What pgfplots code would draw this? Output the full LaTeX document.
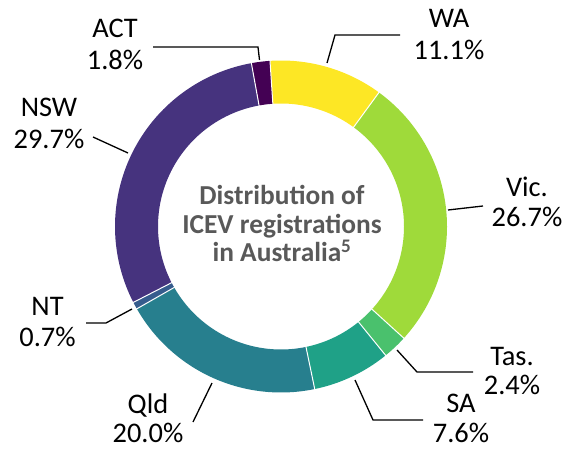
\documentclass[border=0pt]{standalone}
\usepackage{fontspec}
\setmainfont{Carlito}
\usepackage{pgfplots}
\pgfplotsset{compat=1.18}
\definecolor{cWA}{HTML}{FDE725}
\definecolor{cVic}{HTML}{9FDA3A}
\definecolor{cTas}{HTML}{4AC16D}
\definecolor{cSA}{HTML}{1FA187}
\definecolor{cQld}{HTML}{277F8E}
\definecolor{cNT}{HTML}{365C8D}
\definecolor{cNSW}{HTML}{46337E}
\definecolor{cACT}{HTML}{440154}
\definecolor{ctitle}{HTML}{595959}
% segment: colour, share before (in %), share (in %)
\newcommand{\seg}[3]{\addplot[no markers, line width=43bp, color=#1, domain={93.8-3.6*(#2+#3)}:{93.8-3.6*(#2)}, samples=90] ({281+144.5*cos(x)},{226.5-144.5*sin(x)});}
\newcommand{\sep}[1]{\addplot[no markers, white, line width=1bp, domain=121:168, samples=2] ({281+x*cos(93.8-3.6*(#1))},{226.5-x*sin(93.8-3.6*(#1))});}
\newcommand{\lab}[5]{%
\node[anchor=base, inner sep=0pt, font=\fontsize{28.5}{31}\selectfont] at (axis cs:#1,#2) {#4};
\node[anchor=base, inner sep=0pt, font=\fontsize{28.5}{31}\selectfont] at (axis cs:#1,#3) {#5};}
\begin{document}
\begin{tikzpicture}
\begin{axis}[
  width=570bp, height=450bp, scale only axis,
  xmin=0, xmax=570, ymin=0, ymax=450, y dir=reverse,
  hide axis, clip=false]
% shares: WA 11.1, Vic 26.7, Tas 2.4, SA 7.6, Qld 20.0, NT 0.7, NSW 29.7, ACT 1.8
\seg{cWA}{0}{11.1}
\seg{cVic}{11.1}{26.7}
\seg{cTas}{11.1+26.7}{2.4}
\seg{cSA}{11.1+26.7+2.4}{7.6}
\seg{cQld}{11.1+26.7+2.4+7.6}{20.0}
\seg{cNT}{11.1+26.7+2.4+7.6+20.0}{0.7}
\seg{cNSW}{11.1+26.7+2.4+7.6+20.0+0.7}{29.7}
\seg{cACT}{11.1+26.7+2.4+7.6+20.0+0.7+29.7}{1.8}
\sep{0}
\sep{11.1}
\sep{11.1+26.7}
\sep{11.1+26.7+2.4}
\sep{11.1+26.7+2.4+7.6}
\sep{11.1+26.7+2.4+7.6+20.0}
\sep{11.1+26.7+2.4+7.6+20.0+0.7}
\sep{11.1+26.7+2.4+7.6+20.0+0.7+29.7}
% leader lines
\addplot[no markers, black, line width=1.3bp] coordinates {(153,47) (258,47) (259.5,60)};
\addplot[no markers, black, line width=1.3bp] coordinates {(400,35) (335,35) (327,63)};
\addplot[no markers, black, line width=1.3bp] coordinates {(93,137) (128,153)};
\addplot[no markers, black, line width=1.3bp] coordinates {(483,206) (448,210)};
\addplot[no markers, black, line width=1.3bp] coordinates {(86,323) (106,323) (132,309)};
\addplot[no markers, black, line width=1.3bp] coordinates {(473,372) (417,372) (397,350)};
\addplot[no markers, black, line width=1.3bp] coordinates {(423,420) (373,420) (355,380)};
\addplot[no markers, black, line width=1.3bp] coordinates {(193,422) (212,383)};
% labels
\lab{115}{38}{70}{ACT}{1.8\%}
\lab{449}{28}{59.5}{WA}{11.1\%}
\lab{49}{117}{149}{NSW}{29.7\%}
\lab{527}{197}{227}{Vic.}{26.7\%}
\lab{47.5}{315}{346}{NT}{0.7\%}
\lab{512}{365}{394.5}{Tas.}{2.4\%}
\lab{461}{412.5}{442}{SA}{7.6\%}
\lab{148}{413.5}{442}{Qld}{20.0\%}
% centre title
\node[anchor=center, inner sep=0pt, align=center, text=ctitle, font=\fontsize{27.5}{28.5}\selectfont\bfseries] at (axis cs:282,223.5) {Distribution of\\ICEV registrations\\in Australia\textsuperscript{5}};
\end{axis}
\pgfresetboundingbox
\path (current axis.south west) rectangle (current axis.north east);
\end{tikzpicture}
\end{document}
